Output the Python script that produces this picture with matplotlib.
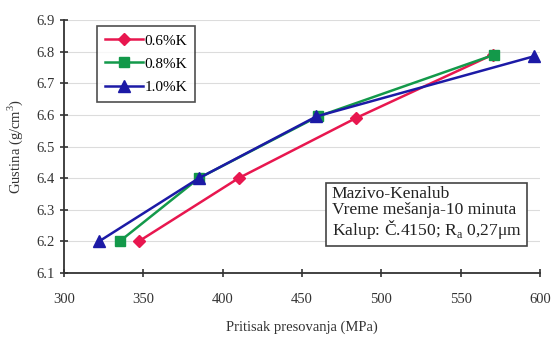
import matplotlib.pyplot as plt
import numpy as np

# Pritisak presovanja (MPa) vs gustina (g/cm3)
x_06 = [347, 410, 484, 570]
y_06 = [6.20, 6.40, 6.59, 6.79]
x_08 = [335, 385, 460, 571]
y_08 = [6.20, 6.40, 6.595, 6.79]
x_10 = [322, 385, 459, 596]
y_10 = [6.20, 6.40, 6.595, 6.785]

labels = ["0.6%K", "0.8%K", "1.0%K"]
x_ticks = [300, 350, 400, 450, 500, 550, 600]
y_ticks = [6.1, 6.2, 6.3, 6.4, 6.5, 6.6, 6.7, 6.8, 6.9]

plt.rcParams["font.family"] = ["Liberation Serif", "DejaVu Serif"]
plt.rcParams["mathtext.fontset"] = "custom"
plt.rcParams["mathtext.rm"] = "Liberation Serif"

fig = plt.figure(figsize=(5.54, 3.38), dpi=100)
ax = fig.add_axes([0.1155, 0.192, 0.8595, 0.749])

ax.plot(x_06, y_06, "-D", color="#e8174f", linewidth=1.8, markersize=6, label=labels[0], zorder=3)
ax.plot(x_08, y_08, "-s", color="#13994a", linewidth=1.8, markersize=7, label=labels[1], zorder=3)
ax.plot(x_10, y_10, "-^", color="#1c1aa6", linewidth=1.8, markersize=8, label=labels[2], zorder=4)

ax.set_xlim(300, 600)
ax.set_ylim(6.1, 6.9)
ax.set_xticks(x_ticks)
ax.set_yticks(y_ticks)
ax.set_yticklabels([f"{v:.1f}" for v in y_ticks])

ax.grid(True, axis="y", color="#dcdcdc", linewidth=0.8)
ax.set_axisbelow(True)
ax.spines["top"].set_visible(False)
ax.spines["right"].set_visible(False)
ax.spines["left"].set_color("#333333")
ax.spines["bottom"].set_color("#333333")
ax.spines["left"].set_linewidth(1.3)
ax.spines["bottom"].set_linewidth(1.3)
ax.tick_params(axis="both", direction="inout", length=6, width=1.2, colors="#333333",
               labelsize=10.5, labelcolor="#333333")
ax.tick_params(axis="x", pad=11)

ax.set_xlabel("Pritisak presovanja (MPa)", fontsize=10.5, color="#333333", labelpad=11)
ax.set_ylabel("Gustina (g/cm$^3$)", fontsize=10.5, color="#333333", labelpad=8)

leg = ax.legend(loc="upper left", bbox_to_anchor=(0.07, 0.975), borderaxespad=0, fontsize=11,
                frameon=True, fancybox=False, edgecolor="#222222",
                handlelength=2.5, handletextpad=0.1, borderpad=0.5, labelspacing=0.62)
leg.get_frame().set_linewidth(1.2)

ax.text(0.562, 0.345, "Mazivo-Kenalub\nVreme mešanja-10 minuta\nKalup: Č.4150; R$_\\mathrm{a}$ 0,27μm",
        transform=ax.transAxes, fontsize=12.6, color="#222222", va="top", ha="left",
        linespacing=1.0,
        bbox=dict(boxstyle="square,pad=0.3", facecolor="white", edgecolor="#444444", linewidth=1.2))

fig.savefig("out.png", dpi=100)
